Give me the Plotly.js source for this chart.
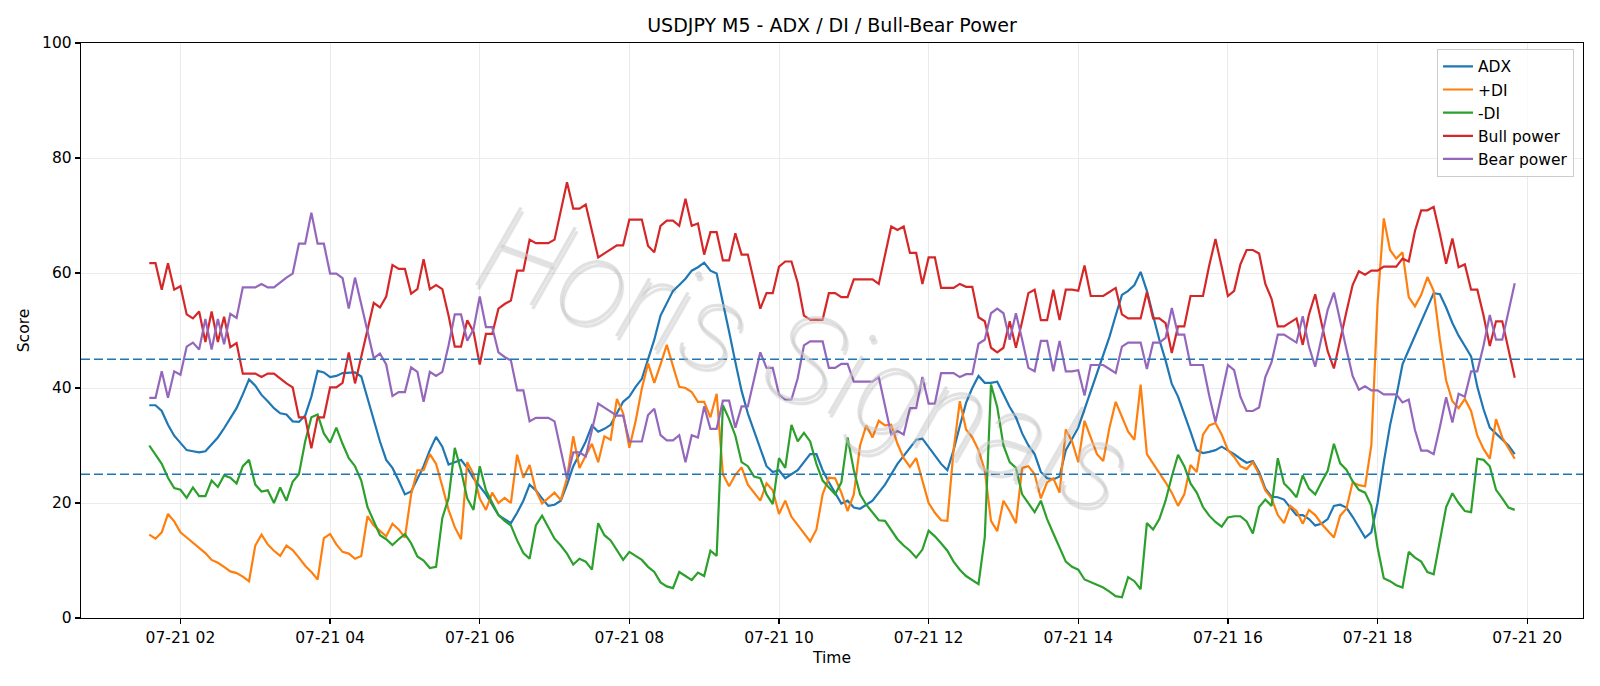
<!DOCTYPE html>
<html>
<head>
<meta charset="utf-8">
<script src="https://cdn.plot.ly/plotly-3.0.1.min.js"></script>
<style>html,body{margin:0;padding:0;background:#fff;}#chart{width:1600px;height:686px;}</style>
</head>
<body>
<div id="chart"></div>
<script>
// M5 bars starting 2025-07-21 01:35, 220 bars
const startTime = "2025-07-21 01:35";
const stepMinutes = 5;

const adx = [37,37,36,33.6,31.7,30.5,29.2,29,28.8,29,
30.3,31.4,33,34.7,36.5,38.9,41.5,40.4,38.8,37.7,
36.5,35.6,35.4,34.2,34.1,35.2,38.5,43,42.7,41.9,
42.1,42.6,42.7,42.7,42,38.1,34.2,30.7,27.5,26.1,
23.9,21.5,22,24.1,26.4,29.2,31.5,29.8,26.7,27.1,
27.5,26.1,24.3,22.9,21.5,19.7,17.9,17.2,16.5,18.3,
20.4,23.2,22.2,20.8,19.5,19.7,20.4,23.2,26.4,28.5,
30.7,33.5,32.4,32.9,33.6,35.6,37.6,38.5,40.2,41.6,
44.8,48.4,52.6,54.9,56.9,57.9,59,60.4,61,61.8,
60.4,59.9,55.1,49.8,44.5,39.5,35.6,32.4,29.6,26.4,
25.4,25.7,24.3,25,25.7,27.1,28.5,28.5,25.7,23.6,
21.8,19.9,20.4,19.2,19,19.7,20.4,21.8,23.2,25,
26.8,28.2,29.6,31,31.2,29.7,28.2,26.8,25.7,29.2,
33.4,37.4,40,42.1,40.9,40.9,41.1,38.8,36.7,34.9,
32.1,30,28.5,25.4,24.3,24.1,24.6,29.2,31.2,33.1,
36.3,39.5,42.7,45.5,48.9,52.6,56.2,56.9,57.9,60.2,
56.9,52.6,48.4,44.8,40.7,38.5,35.6,32.4,29.2,28.7,
28.9,29.2,29.8,29.2,28.5,27.7,27,27.3,25.4,22.5,
21.1,21,20.6,19.2,17.9,17.9,17.2,16.1,16.4,17.2,
19.5,19.7,19.2,17.6,15.8,14,14.9,20,27.1,33.5,
38.5,44.1,46.6,49.1,51.3,54,56.5,56.3,54,51.3,
49.1,47.3,45.5,40.2,36.3,33.1,32.1,31,30,28.5];

const plusDI = [14.5,13.8,14.9,18.1,16.8,14.9,14,13.1,12.2,11.3,
10.1,9.6,8.9,8.1,7.8,7.2,6.4,12.6,14.5,12.8,
11.7,10.8,12.6,11.8,10.5,9.1,8,6.7,13.9,14.6,
12.8,11.5,11.2,10.3,10.8,17.7,16.1,15.2,14.2,16.4,
15.4,14,21.5,25.7,25.7,28.5,26.8,22.9,18.8,15.8,
13.7,27.1,25,20.8,18.8,21.8,20,20.9,20,28.4,
24.4,26.6,22.2,19.9,20.8,21.8,20.5,24.3,31.6,26.1,
28.2,30.3,27.1,31.6,31,38.1,35.6,29.6,34.2,39.9,
44.3,40.9,44.1,47.5,43.8,40.2,40,39.3,37.6,37.6,
34.9,39,25,22.9,24.9,26.2,23.2,21.8,20.4,23.4,
22.2,18.1,20.4,17.6,16.1,14.7,13.3,15.4,21.5,24.4,
24.3,21.8,18.6,21.5,30,33.5,31.4,34.3,33.5,33.6,
30.3,27.8,26.3,27.8,23.9,20,18.3,17,16.9,29.2,
37.7,32.8,31.4,29.2,25.7,16.9,15.1,20.4,18.6,16.5,
26.1,26.4,25,20.8,23.6,24.3,21.8,32.8,30.7,27.1,
34.3,31.4,28.5,27.3,33.1,37.6,34.9,32.4,31,40.6,
28.5,26.9,25.4,23.6,21.8,19.5,21.5,26.6,25.4,31.9,
33.5,33.9,31.9,29.2,28,26.4,25.9,27.1,25,22.2,
20.8,17.9,16.5,19.5,18.6,16.4,18.8,17.9,16.4,15.1,
14,17.8,19,23.6,23.1,22.9,30,54.7,69.5,64,
62.5,63.6,55.8,54.2,56.2,59.3,56.9,48.4,41.3,37.7,
36.5,38.1,36,31.7,29.4,27.7,34.6,31.4,29.6,27.7];

const minusDI = [30,28.5,26.8,24.4,22.6,22.3,20.9,22.7,21.2,21.2,
23.9,22.8,24.8,24.4,23.4,26.4,27.5,23.2,22,22.2,
20,22.7,20.4,23.7,25,30.7,34.9,35.4,32.1,30.5,
33.1,30.3,27.8,26.4,23.9,19.3,16.9,14.4,13.7,12.7,
13.7,14.6,13,10.7,10,8.7,8.9,17.4,20.8,29.6,
25.7,20.8,18.8,26.4,22.2,20,17.9,16.9,16.1,13.5,
11.3,10.3,16.1,17.8,15.9,13.8,12.6,11.2,9.3,10.3,
9.8,8.4,16.5,14.4,13.5,11.7,10.1,11.5,10.8,10.1,
8.9,8,6.2,5.5,5.2,8,7.3,6.6,7.9,7.3,
11.7,10.8,37,34.6,31.7,27.1,26.4,24.6,24.3,21.5,
19.8,27.8,26.1,33.6,30.7,32.2,30.7,26.8,23.9,22.6,
21.5,23.6,31.4,25.7,21.5,19.7,18.3,17,16.9,15.2,
13.7,12.6,11.7,10.5,11.9,15.2,14.2,13,11.7,9.8,
8.4,7.3,6.6,5.9,14,40.6,36.7,30,27.1,26.1,
21.5,20,18.4,20.4,17.2,14.7,12.4,9.8,8.9,8.4,
6.7,6.2,5.7,5.3,4.6,3.8,3.6,7.1,6.4,5,
16.5,15.4,17.2,20.4,24.6,28.4,26.4,23.4,21.8,19.3,
17.8,16.7,15.9,17.5,17.7,17.7,16.8,14.7,19.3,20.6,
19.5,27.8,23.4,22.3,21,24.8,22.5,21.5,23.6,25.6,
30.3,26.9,25.8,23.8,22.3,21.8,19.5,12.3,6.9,6.4,
5.7,5.3,11.5,10.5,9.8,8,7.6,13.7,19.3,21.7,
20,18.6,18.4,27.7,27.5,26.4,22.3,20.8,19.2,18.8];

const bullPower = [61.7,61.7,57.1,61.7,57.1,57.7,52.8,52.1,53.3,48,
53.3,48,52.4,47.1,47.8,42.5,42.5,42.5,41.9,42.5,
42.5,41.6,40.8,40.1,34.9,34.9,29.5,34.9,34.9,40.1,
40.1,40.9,46.2,40.8,45.5,50.3,54.8,54,55.9,61.4,
60.7,60.7,56.4,57.2,62.4,57.2,57.9,57.2,52.6,47.2,
47.2,51.8,49.8,44.1,49.4,49.4,53.8,54.6,55.2,60.4,
60.4,65.8,65.2,65.2,65.2,65.8,70.7,75.8,71.2,71.2,
71.9,67.3,62.7,63.4,64.1,64.8,64.8,69.3,69.3,69.3,
64.7,63.6,68.2,69.1,69.1,68.2,72.9,68.2,68.6,63.2,
67.1,67.1,62.2,62.2,66.9,63.2,63.2,58.6,53.8,56.5,
56.5,61.1,62,62,58.3,52.6,51.9,51.9,51.9,56.5,
56.5,55.8,55.8,58.9,58.9,58.9,58.9,58.1,63.2,68.1,
67.5,68.1,63.5,63.5,58.1,62.7,62.7,57.4,57.4,57.4,
58.1,57.6,57.6,52.3,51.6,47,46.2,47,51.6,47,
51.6,56.5,57.1,51.8,51.8,57.1,51.8,57.1,57.1,56.9,
61.3,56,56,56,56.7,57.4,52.8,52.1,52.1,52.1,
56.7,52.1,52.1,51.3,46.1,50.7,50.7,56,56,56,
61.3,65.9,61.1,56,56.9,61.5,64,64,63.4,58.1,
55.5,50.7,50.7,51.4,52.1,47.5,52.8,56.3,51.3,46.4,
43.4,48.5,53.2,57.9,60.3,59.7,60.4,60.4,61.1,61.1,
61.1,62.5,62,67.3,70.9,70.9,71.5,66.8,61.6,66,
61,61.5,57.1,57.1,52.6,47.3,51.6,51.6,46.6,41.8];

const bearPower = [38.3,38.3,42.9,38.3,42.9,42.3,47.2,47.9,46.7,52,
46.7,52,47.6,52.9,52.2,57.5,57.5,57.5,58.1,57.5,
57.5,58.4,59.2,59.9,65.1,65.1,70.5,65.1,65.1,59.9,
59.9,59.1,53.8,59.2,54.5,49.7,45.2,46,44.1,38.6,
39.3,39.3,43.6,42.8,37.6,42.8,42.1,42.8,47.4,52.8,
52.8,48.2,50.2,55.9,50.6,50.6,46.2,45.4,44.8,39.6,
39.6,34.2,34.8,34.8,34.8,34.2,29.3,24.2,28.8,28.8,
28.1,32.7,37.3,36.6,35.9,35.2,35.2,30.7,30.7,30.7,
35.3,36.4,31.8,30.9,30.9,31.8,27.1,31.8,31.4,36.8,
32.9,32.9,37.8,37.8,33.1,36.8,36.8,41.4,46.2,43.5,
43.5,38.9,38,38,41.7,47.4,48.1,48.1,48.1,43.5,
43.5,44.2,44.2,41.1,41.1,41.1,41.1,41.9,36.8,31.9,
32.5,31.9,36.5,36.5,41.9,37.3,37.3,42.6,42.6,42.6,
41.9,42.4,42.4,47.7,48.4,53,53.8,53,48.4,53,
48.4,43.5,42.9,48.2,48.2,42.9,48.2,42.9,42.9,43.1,
38.7,44,44,44,43.3,42.6,47.2,47.9,47.9,47.9,
43.3,47.9,47.9,48.7,53.9,49.3,49.3,44,44,44,
38.7,34.1,38.9,44,43.1,38.5,36,36,36.6,41.9,
44.5,49.3,49.3,48.6,47.9,52.5,47.2,43.7,48.7,53.6,
56.6,51.5,46.8,42.1,39.7,40.3,39.6,39.6,38.9,38.9,
38.9,37.5,38,32.7,29.1,29.1,28.5,33.2,38.4,34,
39,38.5,42.9,42.9,47.4,52.7,48.4,48.4,53.4,58.2];

const seriesNames = ["ADX", "+DI", "-DI", "Bull power", "Bear power"];
const seriesColors = ["#1f77b4", "#ff7f0e", "#2ca02c", "#d62728", "#9467bd"];
const thresholds = [25, 45];
const yTickVals = [0, 20, 40, 60, 80, 100];

function pad(n){ return (n < 10 ? "0" : "") + n; }
function buildTimes(n){
  const base = Date.UTC(2025, 6, 21, 1, 35);
  const out = [];
  for (let i = 0; i < n; i++) {
    const d = new Date(base + i * stepMinutes * 60000);
    out.push(d.getUTCFullYear() + "-" + pad(d.getUTCMonth()+1) + "-" + pad(d.getUTCDate()) + " " +
             pad(d.getUTCHours()) + ":" + pad(d.getUTCMinutes()) + ":00");
  }
  return out;
}
const times = buildTimes(adx.length);

const allSeries = [adx, plusDI, minusDI, bullPower, bearPower];
const traces = allSeries.map((ys, k) => ({
  type: "scatter", mode: "lines", x: times, y: ys, name: seriesNames[k],
  legendgroup: "g" + k,
  line: {color: seriesColors[k], width: 2.2}
}));

const font = "DejaVu Sans, Verdana, sans-serif";
const layout = {
  width: 1600, height: 686,
  margin: {l: 81, r: 17, t: 43, b: 68, pad: 0},
  paper_bgcolor: "#ffffff", plot_bgcolor: "#ffffff",
  font: {family: font, size: 15.5, color: "#000"},
  title: {text: "USDJPY M5 - ADX / DI / Bull-Bear Power", font: {family: font, size: 19, color: "#000"},
          x: 0.5, xref: "paper", xanchor: "center", y: 1 - 25/686, yref: "container", yanchor: "middle"},
  showlegend: true,
  legend: {x: 0.994, xanchor: "right", y: 0.99, yanchor: "top",
           bgcolor: "rgba(255,255,255,0.8)", bordercolor: "#cccccc", borderwidth: 1,
           font: {family: font, size: 15.5, color: "#000"}, tracegroupgap: 0, traceorder: "normal"},
  xaxis: {
    type: "date", range: ["2025-07-21 00:40:15", "2025-07-21 20:44:45"],
    tickformat: "%m-%d %H", dtick: 7200000, tick0: "2025-07-21 00:00:00",
    showgrid: true, gridcolor: "#ebebeb", gridwidth: 1, zeroline: false,
    showline: true, mirror: true, linecolor: "#000", linewidth: 1.2,
    ticks: "outside", ticklen: 5, tickwidth: 1.2, tickcolor: "#000",
    tickfont: {family: font, size: 15.5, color: "#000"},
    title: {text: "Time", font: {family: font, size: 15.5, color: "#000"}, standoff: 6},
    automargin: false
  },
  yaxis: {
    range: [0, 100], tickvals: yTickVals,
    showgrid: true, gridcolor: "#ebebeb", gridwidth: 1, zeroline: false,
    showline: true, mirror: true, linecolor: "#000", linewidth: 1.2,
    ticks: "outside", ticklen: 5, tickwidth: 1.2, tickcolor: "#000",
    tickfont: {family: font, size: 15.5, color: "#000"},
    title: {text: "Score", font: {family: font, size: 15.5, color: "#000"}, standoff: 8},
    automargin: false
  },
  shapes: thresholds.map(v => ({
    type: "line", xref: "paper", x0: 0, x1: 1, yref: "y", y0: v, y1: v,
    line: {color: "#1f77b4", width: 1.5, dash: "9px,4px"}
  })),
  annotations: [{
    text: "Horis Signals", xref: "paper", yref: "paper", x: 0.482, y: 0.45,
    showarrow: false, textangle: 20,
    font: {family: "Roboto, DejaVu Sans, sans-serif", size: 124,
           color: "rgba(200,200,200,0.55)", style: "italic", weight: 100,
           shadow: "3px 3px 1px rgba(100,100,100,0.35)"}
  }]
};

Plotly.newPlot("chart", traces, layout, {displayModeBar: false, staticPlot: true});
</script>
</body>
</html>
